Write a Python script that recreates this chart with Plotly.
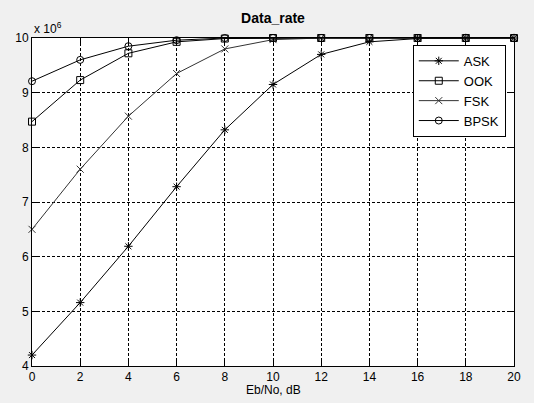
import plotly.graph_objects as go

eb_no = [0, 2, 4, 6, 8, 10, 12, 14, 16, 18, 20]
ask = [4.2, 5.16, 6.19, 7.28, 8.32, 9.15, 9.70, 9.93, 9.99, 10.0, 10.0]
ook = [8.47, 9.23, 9.72, 9.93, 9.99, 10.0, 10.0, 10.0, 10.0, 10.0, 10.0]
fsk = [6.5, 7.6, 8.57, 9.35, 9.8, 9.97, 10.0, 10.0, 10.0, 10.0, 10.0]
bpsk = [9.21, 9.6, 9.85, 9.96, 10.0, 10.0, 10.0, 10.0, 10.0, 10.0, 10.0]
y_ticks = [4, 5, 6, 7, 8, 9, 10]
x_ticks = [0, 2, 4, 6, 8, 10, 12, 14, 16, 18, 20]

series = [
    ("ASK", ask, "asterisk-open", "#000000"),
    ("OOK", ook, "square-open", "#000000"),
    ("FSK", fsk, "x-thin-open", "#333333"),
    ("BPSK", bpsk, "circle-open", "#000000"),
]

fig = go.Figure()
for name, vals, sym, col in series:
    fig.add_trace(go.Scatter(
        x=eb_no, y=vals, name=name, mode="lines+markers",
        line=dict(color=col, width=1),
        marker=dict(symbol=sym, size=7, color=col, line=dict(color=col, width=1)),
        cliponaxis=False,
    ))

axis_common = dict(
    showline=True, linecolor="#000000", linewidth=1, mirror="allticks",
    ticks="inside", ticklen=5, tickcolor="#000000",
    showgrid=True, gridcolor="#000000", griddash="3px,2px", gridwidth=1,
    zeroline=False, tickfont=dict(size=12, color="#000000"),
    automargin=False,
)

fig.update_layout(
    width=534, height=403,
    margin=dict(l=32, r=20, t=38, b=37),
    paper_bgcolor="#f0f0f0", plot_bgcolor="#ffffff",
    font=dict(family="Liberation Sans, Arial, sans-serif", color="#000000"),
    title=dict(text="<b>Data_rate</b>", x=0.5, xref="paper", y=0.955, yanchor="middle",
               font=dict(size=14), automargin=False),
    xaxis=dict(range=[0, 20], tickvals=x_ticks, **axis_common),
    yaxis=dict(range=[4, 10], tickvals=y_ticks, **axis_common),
    legend=dict(x=0.79, y=0.979, xanchor="left", yanchor="top",
                bgcolor="#ffffff", bordercolor="#000000", borderwidth=1,
                font=dict(size=13), tracegroupgap=0, itemwidth=40),
    annotations=[
        dict(text="x 10<sup>6</sup>", xref="paper", yref="paper",
             x=0.0, y=1.0, xanchor="left", yanchor="bottom",
             showarrow=False, font=dict(size=12)),
        dict(text="Eb/No, dB", xref="paper", yref="paper",
             x=0.5, y=-0.072, xanchor="center", yanchor="middle",
             showarrow=False, font=dict(size=12)),
    ],
)

fig.write_html(
    "out.html",
    config={"displayModeBar": False},
    post_script="document.body.style.margin='0px';document.body.style.overflow='hidden';document.body.style.background='#f0f0f0';",
)
